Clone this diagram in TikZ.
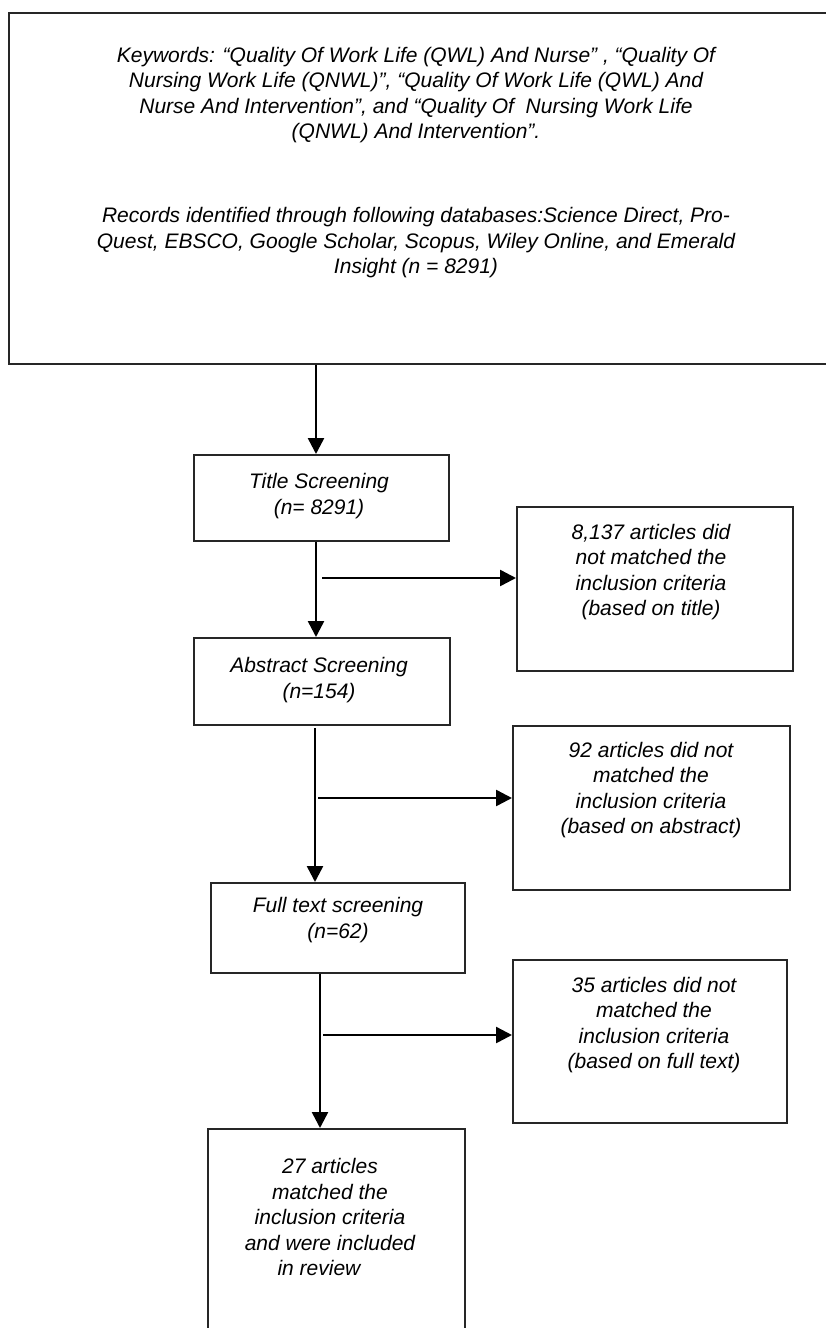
\documentclass[tikz,border=0pt]{standalone}
\usepackage{fontspec}
\setmainfont{Liberation Sans}
\usetikzlibrary{arrows.meta,calc}
\begin{document}
\begin{tikzpicture}[x=1pt,y=-1pt,
  box/.style={draw=black!85,line width=1.5pt,rectangle,inner sep=0pt},
  txt/.style={align=center,inner sep=0pt,font=\fontsize{21}{25.5}\selectfont\itshape},
  arr/.style={line width=2.5pt,-{Triangle[length=16pt,width=16pt]}}]
\useasboundingbox (0,0) rectangle (825,1328);
% boxes
\node[box,anchor=north west,minimum width=822pt,minimum height=351pt] (top) at (8,12) {};
\node[box,anchor=north west,minimum width=255pt,minimum height=86pt] (title) at (193,454) {};
\node[box,anchor=north west,minimum width=276pt,minimum height=164pt] (ex1) at (516,506) {};
\node[box,anchor=north west,minimum width=256pt,minimum height=87pt] (abs) at (193,637) {};
\node[box,anchor=north west,minimum width=277pt,minimum height=164pt] (ex2) at (512,725) {};
\node[box,anchor=north west,minimum width=254pt,minimum height=90pt] (full) at (210,882) {};
\node[box,anchor=north west,minimum width=274pt,minimum height=163pt] (ex3) at (512,959) {};
\node[box,anchor=north west,minimum width=257pt,minimum height=212pt] (inc) at (207,1128) {};
% texts
\node[txt] (tk) at (416,95) {Keywords: “Quality Of Work Life (QWL) And Nurse” , “Quality Of\\Nursing Work Life (QNWL)”, “Quality Of Work Life (QWL) And\\Nurse And Intervention”, and “Quality Of \ Nursing Work Life\\(QNWL) And Intervention”.};
\node[txt] (tr) at (416,243) {Records identified through following databases:Science Direct, Pro-\\Quest, EBSCO, Google Scholar, Scopus, Wiley Online, and Emerald\\Insight (n = 8291)};
\node[txt] (tt) at (319,496) {Title Screening\\(n= 8291)};
\node[txt] (t1) at (651,572) {8,137 articles did\\not matched the\\inclusion criteria\\(based on title)};
\node[txt] (ta) at (319,680) {Abstract Screening\\(n=154)};
\node[txt] (t2) at (651,790) {92 articles did not\\matched the\\inclusion criteria\\(based on abstract)};
\node[txt] (tf) at (338,920) {Full text screening\\(n=62)};
\node[txt] (t3) at (654,1025) {35 articles did not\\matched the\\inclusion criteria\\(based on full text)};
\node[txt] (ti) at (330,1217) {27 articles\\matched the\\inclusion criteria\\and were included\\in review\hspace*{22pt}};
% connector anchors
\coordinate (c1) at (316,0);
\coordinate (c2) at (315,0);
\coordinate (c3) at (320,0);
\coordinate (s1) at (322,578);
\coordinate (s2) at (318,798);
\coordinate (s3) at (323,1035);
\coordinate (g2) at (315,728);
% connectors
\draw[arr] (top.south -| c1) -- (title.north -| c1);
\draw[arr] (title.south -| c1) -- (abs.north -| c1);
\draw[arr] (g2) -- (full.north -| c2);
\draw[arr] (full.south -| c3) -- (inc.north -| c3);
\draw[arr] (s1) -- (s1 -| ex1.west);
\draw[arr] (s2) -- (s2 -| ex2.west);
\draw[arr] (s3) -- (s3 -| ex3.west);
\end{tikzpicture}
\end{document}
